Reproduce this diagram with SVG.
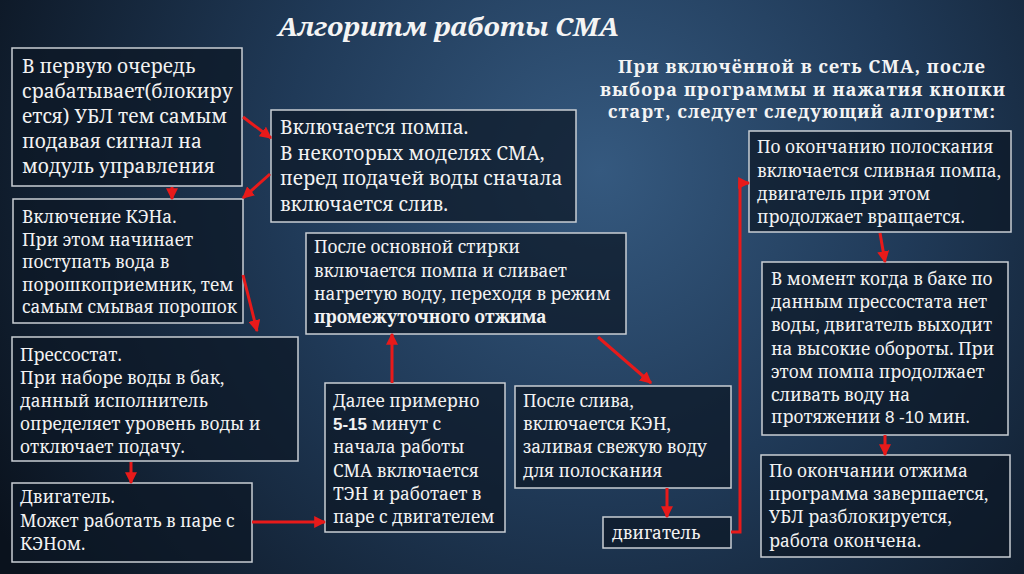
<svg xmlns="http://www.w3.org/2000/svg" width="1024" height="574" viewBox="0 0 1024 574">
<defs>
<radialGradient id="bg" cx="600" cy="170" r="700" gradientUnits="userSpaceOnUse">
<stop offset="0" stop-color="#35597f"/>
<stop offset="0.45" stop-color="#203a58"/>
<stop offset="1" stop-color="#0a121d"/>
</radialGradient>
<marker id="ah" viewBox="0 0 10 10" refX="9" refY="5" markerWidth="4" markerHeight="4" orient="auto" markerUnits="strokeWidth">
<path d="M0,0 L10,5 L0,10 z" fill="#e81a1a"/>
</marker>
</defs>
<style>
.box{fill:#0d1825;fill-opacity:0.72;stroke:#c9ced4;stroke-width:1.5}
.t{font-family:"Noto Serif","Liberation Serif",serif;font-size:17.3px;fill:#f2f2f2}
.big{font-size:19.2px}
.b{font-weight:bold}
.num{font-family:"Liberation Sans","Open Sans",sans-serif;font-size:17px}
.title{font-family:"Noto Serif","Liberation Serif",serif;font-size:26px;font-weight:bold;font-style:italic;fill:#f4f4f4}
.sub{font-family:"Noto Serif","Liberation Serif",serif;font-size:18px;font-weight:bold;fill:#f4f4f4}
.c{fill:none;stroke:#e81a1a;stroke-width:3;marker-end:url(#ah)}
</style>
<rect width="1024" height="574" fill="url(#bg)"/>
<text class="title" x="278" y="36" textLength="341" lengthAdjust="spacingAndGlyphs">Алгоритм работы СМА</text>
<g id="intro">
<text class="sub"><tspan x="618" y="73" textLength="367">При включённой в сеть СМА, после</tspan><tspan x="600" y="96" textLength="405">выбора программы  и нажатия кнопки</tspan><tspan x="608" y="118" textLength="387">старт, следует следующий алгоритм:</tspan></text>
</g>
<g id="n1"><rect class="box" x="12" y="48" width="230" height="138"/>
<text class="t big"><tspan x="22" y="73">В первую очередь</tspan><tspan x="22" y="98">срабатывает(блокиру</tspan><tspan x="22" y="123">ется) УБЛ тем самым</tspan><tspan x="22" y="148">подавая сигнал на</tspan><tspan x="22" y="173">модуль управления</tspan></text></g>
<g id="n2"><rect class="box" x="271" y="110" width="305" height="112"/>
<text class="t big"><tspan x="280" y="134">Включается помпа.</tspan><tspan x="280" y="159.5">В некоторых моделях СМА,</tspan><tspan x="280" y="185">перед подачей воды сначала</tspan><tspan x="280" y="210.5">включается слив.</tspan></text></g>
<g id="n3"><rect class="box" x="13" y="199" width="230" height="124"/>
<text class="t"><tspan x="22" y="223">Включение КЭНа.</tspan><tspan x="22" y="245.5">При этом начинает</tspan><tspan x="22" y="268">поступать вода в</tspan><tspan x="22" y="290.5">порошкоприемник, тем</tspan><tspan x="22" y="313">самым смывая порошок</tspan></text></g>
<g id="n4"><rect class="box" x="12" y="337" width="286" height="124"/>
<text class="t"><tspan x="20" y="361">Прессостат.</tspan><tspan x="20" y="384">При наборе воды в бак,</tspan><tspan x="20" y="407">данный исполнитель</tspan><tspan x="20" y="430">определяет уровень воды и</tspan><tspan x="20" y="453">отключает подачу.</tspan></text></g>
<g id="n5"><rect class="box" x="12" y="483" width="240" height="79"/>
<text class="t"><tspan x="20" y="503">Двигатель.</tspan><tspan x="20" y="527">Может работать в паре с</tspan><tspan x="20" y="550">КЭНом.</tspan></text></g>
<g id="n6"><rect class="box" x="325" y="383" width="180" height="149"/>
<text class="t"><tspan x="333" y="407">Далее примерно</tspan><tspan x="333" y="430"><tspan class="num b">5-15</tspan> минут с</tspan><tspan x="333" y="453">начала работы</tspan><tspan x="333" y="477">СМА  включается</tspan><tspan x="333" y="500">ТЭН и работает в</tspan><tspan x="333" y="523">паре с двигателем</tspan></text></g>
<g id="n7"><rect class="box" x="306" y="233" width="320" height="101"/>
<text class="t"><tspan x="314" y="253">После основной стирки</tspan><tspan x="314" y="277">включается помпа и сливает</tspan><tspan x="314" y="300">нагретую воду, переходя в режим</tspan><tspan x="314" y="323" class="b">промежуточного отжима</tspan></text></g>
<g id="n8"><rect class="box" x="515" y="386" width="216" height="102"/>
<text class="t"><tspan x="523" y="407">После слива,</tspan><tspan x="523" y="430">включается КЭН,</tspan><tspan x="523" y="453">заливая свежую воду</tspan><tspan x="523" y="477">для полоскания</tspan></text></g>
<g id="n9"><rect class="box" x="603" y="517" width="128" height="31"/>
<text class="t"><tspan x="612" y="539">двигатель</tspan></text></g>
<g id="n10"><rect class="box" x="749" y="131" width="262" height="101"/>
<text class="t"><tspan x="757" y="153">По окончанию полоскания</tspan><tspan x="757" y="177">включается сливная помпа,</tspan><tspan x="757" y="200">двигатель при этом</tspan><tspan x="757" y="223">продолжает вращается.</tspan></text></g>
<g id="n11"><rect class="box" x="762" y="262" width="246" height="173"/>
<text class="t"><tspan x="771" y="285">В момент когда в баке по</tspan><tspan x="771" y="308">данным прессостата нет</tspan><tspan x="771" y="331">воды, двигатель выходит</tspan><tspan x="771" y="355">на высокие обороты. При</tspan><tspan x="771" y="378">этом помпа продолжает</tspan><tspan x="771" y="401">сливать воду на</tspan><tspan x="771" y="423">протяжении <tspan class="num">8 -10</tspan> мин.</tspan></text></g>
<g id="n12"><rect class="box" x="761" y="455" width="249" height="102"/>
<text class="t"><tspan x="769" y="477">По окончании отжима</tspan><tspan x="769" y="500">программа завершается,</tspan><tspan x="769" y="523">УБЛ разблокируется,</tspan><tspan x="769" y="547">работа окончена.</tspan></text></g>
<g id="connectors">
<line class="c" x1="243" y1="117" x2="271" y2="138"/>
<line class="c" x1="270" y1="174" x2="243" y2="198"/>
<line class="c" x1="172" y1="187" x2="172" y2="199"/>
<line class="c" x1="243" y1="275" x2="257" y2="331"/>
<line class="c" x1="131" y1="462" x2="131" y2="483"/>
<line class="c" x1="252" y1="522" x2="325" y2="522"/>
<line class="c" x1="392" y1="383" x2="392" y2="334"/>
<line class="c" x1="598" y1="337" x2="651" y2="383"/>
<line class="c" x1="667" y1="488" x2="667" y2="517"/>
<polyline class="c" points="731,532 740,532 740,183 749,183"/>
<line class="c" x1="880" y1="233" x2="885" y2="262"/>
<line class="c" x1="885" y1="435" x2="885" y2="455"/>
</g>
</svg>
